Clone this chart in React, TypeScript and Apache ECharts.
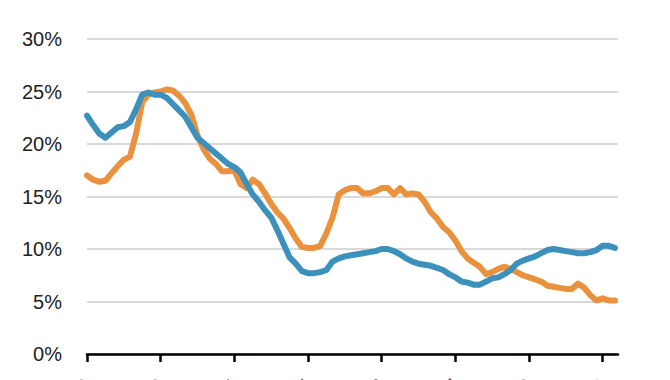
import React, { useEffect, useRef } from "react";
import * as echarts from "echarts";

// Monthly observations (index = month from start)
const orangeValues: number[] = [
  17.0, 16.6, 16.4, 16.5, 17.2, 17.9, 18.5, 18.8, 21.0, 24.0,
  24.7, 24.9, 25.0, 25.2, 25.1, 24.6, 23.9, 22.8, 20.8, 19.5,
  18.6, 18.1, 17.4, 17.4, 17.5, 16.2, 15.8, 16.6, 16.2, 15.3,
  14.3, 13.5, 12.9, 12.0, 11.0, 10.2, 10.1, 10.1, 10.3, 11.5,
  13.0, 15.2, 15.6, 15.8, 15.8, 15.3, 15.3, 15.5, 15.8, 15.8,
  15.2, 15.8, 15.2, 15.3, 15.2, 14.5, 13.5, 12.9, 12.1, 11.6,
  10.8, 9.8, 9.1, 8.7, 8.3, 7.6, 7.8, 8.1, 8.3, 8.1,
  7.8, 7.5, 7.3, 7.1, 6.9, 6.5, 6.4, 6.3, 6.2, 6.2,
  6.7, 6.3, 5.6, 5.1, 5.3, 5.1, 5.1,
];

const blueValues: number[] = [
  22.7, 21.8, 21.0, 20.6, 21.1, 21.6, 21.7, 22.1, 23.3, 24.7,
  24.9, 24.7, 24.7, 24.4, 23.8, 23.2, 22.6, 21.6, 20.6, 20.1,
  19.6, 19.1, 18.6, 18.1, 17.8, 17.3, 16.2, 15.2, 14.5, 13.7,
  13.0, 11.8, 10.5, 9.2, 8.6, 7.9, 7.7, 7.7, 7.8, 8.0,
  8.8, 9.1, 9.3, 9.4, 9.5, 9.6, 9.7, 9.8, 10.0, 10.0,
  9.8, 9.5, 9.1, 8.8, 8.6, 8.5, 8.4, 8.2, 8.0, 7.6,
  7.3, 6.9, 6.8, 6.6, 6.6, 6.9, 7.2, 7.3, 7.6, 8.0,
  8.6, 8.9, 9.1, 9.3, 9.6, 9.9, 10.0, 9.9, 9.8, 9.7,
  9.6, 9.6, 9.7, 9.9, 10.3, 10.3, 10.1,
];

// Tick labels every 12 months (mostly cut off at the bottom of the picture)
const xTickLabels: string[] = ["Jan-12", "Jan-13", "Jan-14", "Jan-15", "Jan-16", "Jan-17", "Jan-18", "Jan-19"];

const ORANGE = "#E9913D";
const BLUE = "#3B91BC";

export default function App() {
  const ref = useRef<HTMLDivElement>(null);

  useEffect(() => {
    if (!ref.current) return;
    const chart = echarts.init(ref.current, undefined, { renderer: "svg" });
    const toPairs = (arr: number[]) => arr.map((v, i) => [i, v]);
    chart.setOption({
      animation: false,
      grid: {
        left: 87,
        right: 52,
        top: 39,
        bottom: 66,
        containLabel: false,
        outerBoundsMode: "none",
      },
      xAxis: {
        type: "value",
        min: 0,
        max: 86.5,
        interval: 12,
        axisLine: { show: true, onZero: false, lineStyle: { color: "#000", width: 2.5 } },
        axisTick: { show: true, inside: false, length: 8, lineStyle: { color: "#000", width: 2.5 } },
        splitLine: { show: false },
        axisLabel: {
          show: true,
          rotate: 45,
          margin: 28,
          fontSize: 19,
          color: "#555",
          fontFamily: "Liberation Sans, Arial, sans-serif",
          showMaxLabel: false,
          formatter: (v: number) => {
            const idx = Math.round(v / 12);
            return xTickLabels[idx] ?? "";
          },
        },
      },
      yAxis: {
        type: "value",
        min: 0,
        max: 30,
        interval: 5,
        axisLine: { show: false },
        axisTick: { show: false },
        splitLine: { show: true, lineStyle: { color: "#D9D9D9", width: 2 } },
        axisLabel: {
          margin: 25,
          fontSize: 20,
          color: "#222",
          fontFamily: "Liberation Sans, Arial, sans-serif",
          formatter: (v: number) => `${v}%`,
        },
      },
      series: [
        {
          type: "line",
          data: toPairs(orangeValues),
          showSymbol: false,
          symbol: "none",
          lineStyle: { color: ORANGE, width: 6, cap: "round", join: "round" },
          z: 2,
        },
        {
          type: "line",
          data: toPairs(blueValues),
          showSymbol: false,
          symbol: "none",
          lineStyle: { color: BLUE, width: 6, cap: "round", join: "round" },
          z: 3,
        },
      ],
    });
    return () => chart.dispose();
  }, []);

  return (
    <div style={{ position: "fixed", left: 0, top: 0, width: 670, height: 380, overflow: "hidden", background: "#fff" }}>
      <div ref={ref} style={{ width: 670, height: 420 }} />
    </div>
  );
}
